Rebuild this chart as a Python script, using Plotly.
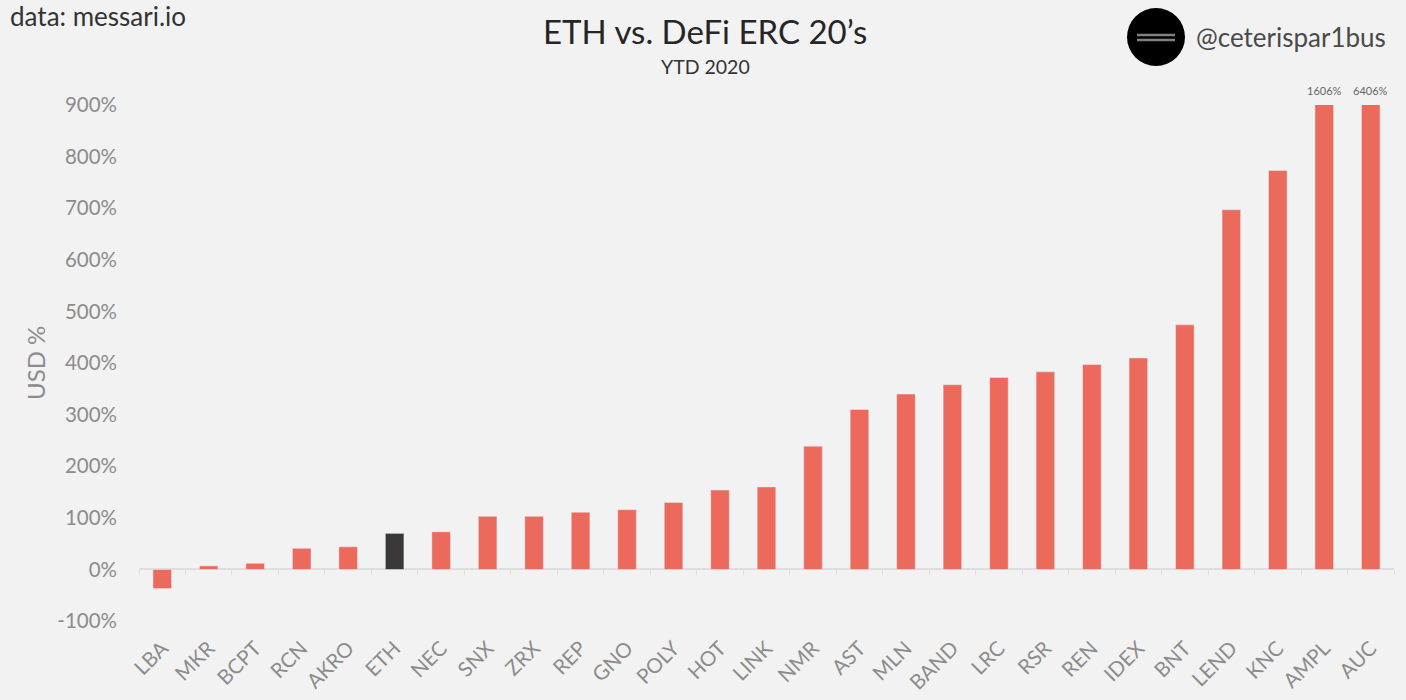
import plotly.graph_objects as go

coins = ["LBA", "MKR", "BCPT", "RCN", "AKRO", "ETH", "NEC", "SNX", "ZRX", "REP", "GNO", "POLY", "HOT", "LINK",
         "NMR", "AST", "MLN", "BAND", "LRC", "RSR", "REN", "IDEX", "BNT", "LEND", "KNC", "AMPL", "AUC"]
ytd_pct = [-37, 7, 12, 41, 44, 70, 73, 103, 103, 111, 116, 130, 154, 160,
           239, 310, 340, 358, 372, 383, 397, 410, 474, 697, 773, 1606, 6406]
y_ticks = [-100, 0, 100, 200, 300, 400, 500, 600, 700, 800, 900]
off_scale = ["AMPL", "AUC"]  # these run past the top of the axis, value gets written above the bar

W, H = 1406, 700
L, R, T, B = 139, 12, 105, 60
BG = "#f2f2f2"
GREY = "#8c8c8c"
FONT = "Lato"


# logo and header are placed in pixels of the page
def px(x):
    return (x - L) / (W - L - R)


def py(y):
    return 1 - (y - T) / (H - T - B)


colors = ["#3a3838" if c == "ETH" else "#ec6a5b" for c in coins]

fig = go.Figure(go.Bar(x=coins, y=ytd_pct, marker_color=colors, width=0.4))

fig.update_layout(
    width=W, height=H, margin=dict(l=L, r=R, t=T, b=B, autoexpand=False),
    paper_bgcolor=BG, plot_bgcolor=BG, showlegend=False,
    font=dict(family=FONT, color=GREY),
)
# zero line carries the category ticks, labels sit well below it
fig.update_xaxes(
    type="category", categoryorder="array", categoryarray=coins,
    anchor="free", position=136.6 / 1036.6, showgrid=False, showline=True, linecolor="#dedede", linewidth=1.5,
    ticks="outside", ticklen=5, tickcolor="#dedede", tickson="boundaries", layer="below traces",
    tickangle=-45, ticklabelstandoff=58, tickfont=dict(size=20.5, color=GREY, family=FONT),
)
fig.update_yaxes(
    range=[-136.6, 900], showgrid=False, zeroline=False, showline=False,
    tickvals=y_ticks, ticktext=[f"{v}%" for v in y_ticks],
    ticks="", ticklabelstandoff=21, tickfont=dict(size=20.5, color=GREY, family=FONT),
)


def note(text, x, y, size, color, anchor="center", angle=0):
    fig.add_annotation(text=text, xref="paper", yref="paper", x=px(x), y=py(y), xanchor=anchor, yanchor="middle",
                       showarrow=False, textangle=angle, font=dict(family=FONT, size=size, color=color))


note("ETH vs. DeFi ERC 20’s", 705, 31, 33, "#262626")
note("YTD 2020", 705, 66, 19.5, "#333333")
note("data: messari.io", 8, 16, 26, "#333333", anchor="left")
note("@ceterispar1bus", 1194, 37, 26, "#4a4a4a", anchor="left")
note("USD %", 35, 363, 24, GREY, angle=-90)

for c in off_scale:
    fig.add_annotation(text=f"{ytd_pct[coins.index(c)]}%", x=c, xref="x", y=py(90), yref="paper", showarrow=False,
                       yanchor="middle", font=dict(family=FONT, size=11, color="#666666"))

fig.add_shape(type="circle", xref="paper", yref="paper", x0=px(1127), x1=px(1185), y0=py(66), y1=py(8),
              fillcolor="#000000", line_width=0, layer="above")
for yy in (35, 40):
    fig.add_shape(type="line", xref="paper", yref="paper", x0=px(1137), x1=px(1175), y0=py(yy), y1=py(yy),
                  line=dict(color="#808080", width=2.5), layer="above")

fig.write_html("out.html", config=dict(displayModeBar=False), post_script="document.body.style.margin='0';")
